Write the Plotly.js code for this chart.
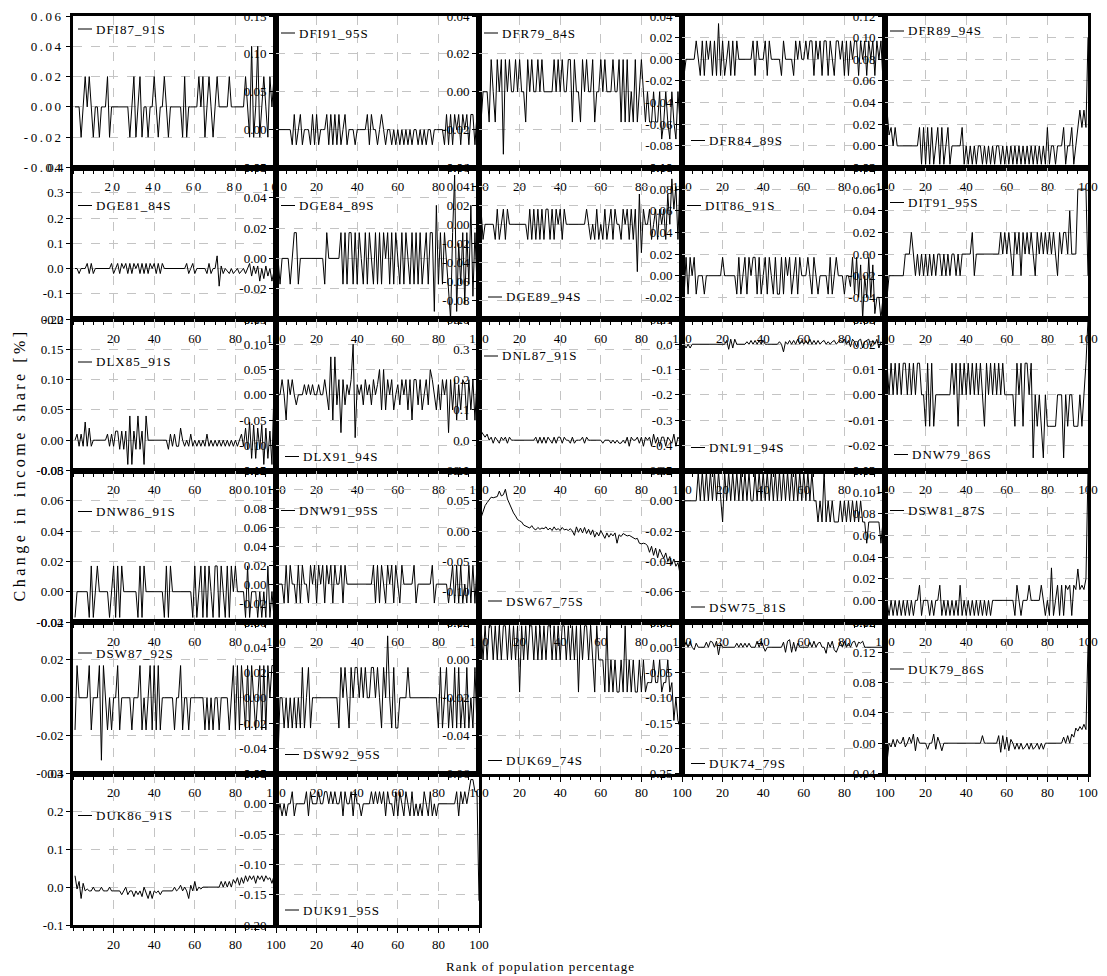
<!DOCTYPE html>
<html>
<head>
<meta charset="utf-8">
<script src="https://cdn.plot.ly/plotly-3.0.1.min.js"></script>
<style>
html,body{margin:0;padding:0;background:#fff;}
#chart{width:1107px;height:976px;}
.xtick text,.ytick text{letter-spacing:2.5px;}
.annotation-text{letter-spacing:1px;}
.annotation[data-index="0"] .annotation-text{letter-spacing:3.5px;}
</style>
</head>
<body>
<div id="chart"></div>
<script>
// ---------------- data ----------------
const rank = Array.from({length: 100}, (_, i) => i + 1);

const DFI87_91S = [0,0,0,-.02,0,.02,0,.02,0,-.02, 0,0,-.02,0,0,0,.02,-.02,0,0, 0,0,0,0,0,0,0,-.02,0,.02, -.02,0,.02,-.02,0,0,-.02,0,0,.02, 0,-.02,0,0,.02,0,-.02,0,0,0, 0,0,0,-.02,.02,-.02,0,0,0,0, 0,.02,0,.02,-.02,0,.02,0,-.02,0, .02,0,0,0,0,0,.02,0,0,0, 0,0,0,0,.02,0,-.02,.04,-.02,0, .04,-.02,0,.02,0,-.02,.02,0,.02,0];
const DFI91_95S = [0,0,0,0,0,0,0,-.02,.02,-.02, 0,.02,-.02,0,0,0,-.02,.02,-.02,.02, -.02,0,0,0,.02,-.02,.02,-.02,.02,-.02, .02,-.02,0,.02,-.02,0,0,0,-.02,0, 0,0,0,0,.02,-.02,.02,0,0,-.02, 0,.02,0,-.02,0,0,-.02,0,-.02,0, -.02,0,-.02,0,-.02,0,-.02,0,0,-.02, 0,-.02,0,-.02,0,0,-.02,0,0,0, 0,0,-.02,.02,-.02,.02,-.02,.02,0,.02, -.02,.02,0,.02,-.02,.02,.02,-.02,.02,0];
const DFR79_84S = [-.016,0,0,0,-.016,.017,0,-.016,.017,0, .017,-.033,.017,0,.017,0,0,.017,0,.017, 0,0,-.016,.017,0,.017,0,0,.017,0, .017,0,0,0,0,0,.017,0,.017,0, .017,0,0,.017,.017,-.016,.017,0,0,-.016, .017,0,.017,0,0,.017,-.016,0,0,.017, 0,.017,0,0,0,.017,0,0,.017,-.016, .017,-.016,.017,-.016,0,-.016,.017,-.016,0,.017, 0,-.016,0,-.016,-.016,0,-.016,-.016,0,-.025, -.016,0,-.016,-.025,0,-.016,-.025,0,-.016,-.025];
const DFR84_89S = [-.015,0,0,0,0,0,.017,0,-.015,.017, -.015,.017,0,.017,-.015,.017,-.015,.033,-.015,.017, -.015,0,.017,-.015,.017,-.015,.017,0,0,0, 0,0,0,0,.017,-.015,.017,0,0,0, .017,-.015,.017,0,0,0,0,0,-.015,.017, 0,0,0,0,-.015,.017,0,.017,0,0, .017,0,.017,.017,-.015,.017,0,.017,-.015,.017, .017,-.015,.017,0,-.015,.017,.017,0,.017,-.015, .017,-.015,.017,0,.017,.017,-.015,.017,0,.017, -.015,.017,0,.017,-.015,.017,0,.017,-.02,.017];
const DFR89_94S = [.033,.01,.017,0,.017,0,0,0,0,0, 0,0,0,0,0,0,.017,-.017,.017,-.017, .017,-.017,.017,-.017,0,.017,-.017,.017,-.017,0, .017,-.017,0,0,0,0,0,.017,-.017,0, -.017,0,-.017,0,-.017,0,0,-.017,0,-.017, 0,-.017,0,-.017,0,0,-.017,0,-.017,0, -.017,0,-.017,0,-.017,0,-.017,0,-.017,0, -.017,0,-.017,0,-.017,0,-.017,0,-.017,.017, -.017,0,0,-.017,0,0,0,.017,-.017,0, 0,.017,-.017,0,.017,.033,.017,.033,.017,.10];
const DGE81_84S = [0,0,-.02,0,0,0,.02,-.02,.02,-.02, 0,0,0,0,0,0,0,0,.02,-.02, 0,.02,-.02,.02,0,.02,-.02,.02,-.02,.02, 0,.02,-.02,.02,-.02,.02,-.02,.02,0,.02, -.02,.02,-.02,.02,0,0,0,0,0,0, 0,0,0,0,0,.02,-.02,0,.02,-.02, 0,0,0,0,0,-.02,.02,-.02,0,0, .05,-.07,.01,-.02,0,-.01,-.02,0,-.02,-.01, 0,-.02,-.01,0,-.02,0,.02,-.03,.01,-.02, .01,-.05,0,-.04,.01,-.03,0,-.05,-.01,-.03];
const DGE84_89S = [0,-.017,0,0,0,0,-.017,0,.017,.017, -.017,0,0,0,0,0,0,0,0,0, 0,0,0,-.017,.017,0,0,0,0,0, 0,.017,-.017,.017,-.017,.017,.017,-.017,.017,-.017, .017,0,-.017,.017,-.017,.017,0,-.017,.017,-.017, .017,-.017,.017,0,.017,-.017,.017,-.017,.017,0, -.017,.017,-.017,.017,0,-.017,.017,-.017,.017,-.017, .017,-.017,0,.017,-.017,.017,.017,-.035,.035,-.017, .017,-.017,.017,0,-.017,-.04,.017,.055,-.035,.01, -.017,.017,-.03,.017,-.017,.035,-.025,.017,-.017,0];
const DGE89_94S = [.016,-.016,0,0,0,0,0,-.016,.016,-.016, 0,.016,-.016,.016,0,0,0,0,0,0, 0,0,0,-.016,.016,-.016,.016,-.016,.016,-.016, .016,-.016,.016,.016,-.016,.016,-.016,.016,0,.016, -.016,.016,0,0,0,0,0,0,0,0, 0,0,.016,0,-.016,0,-.016,.016,-.016,0, -.016,.016,-.016,0,.016,-.016,.016,0,0,-.016, .016,0,.016,-.016,.016,-.016,.016,-.05,.032,-.03, .016,0,0,.016,-.016,0,.016,-.016,.016,0, .016,-.016,.032,0,.048,.016,.04,-.016,.048,.03];
const DIT86_91S = [-.02,.017,-.017,.017,0,.017,-.017,0,0,0, -.017,0,0,0,0,0,0,0,0,.017, 0,0,0,0,0,0,-.017,.017,-.017,0, .017,-.017,.017,0,.017,.017,-.017,.017,-.017,0, .017,-.017,.017,0,-.017,.017,-.017,-.017,.017,-.017, .017,0,.017,-.017,0,.017,-.017,.017,0,0, 0,.017,0,-.017,.017,0,-.017,0,0,0, 0,-.017,.017,-.017,0,.017,0,0,0,-.017, 0,0,-.01,.017,-.017,.017,-.02,.01,-.04,0, -.02,.017,-.02,.01,-.035,-.02,-.02,-.04,-.02,-.04];
const DIT91_95S = [-.04,-.02,-.02,-.02,-.02,-.02,-.02,-.02,-.02,0, 0,0,.02,0,-.02,0,-.02,0,-.02,0, -.02,0,-.02,0,-.02,0,0,-.02,0,-.02, 0,-.02,0,0,-.02,0,-.02,0,0,0, 0,0,.02,-.02,0,0,0,0,0,0, 0,0,0,0,0,0,.02,0,.02,0, .02,0,-.02,.02,0,.02,-.02,.02,0,.02, 0,.02,0,-.02,.02,0,.02,0,.02,0, .02,0,.02,0,-.02,.02,0,.02,.02,0, .04,0,0,0,.06,.06,.06,.06,.06,-.02];
const DLX85_91S = [0,.01,-.01,.01,-.01,.03,-.01,.02,-.01,0, 0,0,0,0,0,0,.01,-.01,.01,-.01, .015,.015,-.015,.015,-.015,.015,-.04,.04,-.04,.015, -.015,.04,-.015,.015,-.04,.04,0,0,0,0, 0,0,0,0,0,0,-.015,.01,-.01,.01, -.01,-.01,.02,0,-.01,0,-.01,.01,-.01,0, -.01,0,-.01,0,-.01,.01,-.01,0,-.01,0, -.01,0,-.01,0,-.01,0,-.01,0,-.01,0, -.01,0,.01,-.01,.02,-.015,.03,-.03,.025,-.03, .02,-.015,.025,-.04,.02,-.03,.015,-.04,.085,-.025];
const DLX91_94S = [0,0,.03,0,-.05,.03,0,.03,0,-.02, 0,0,0,.02,0,.02,0,.02,0,0, .02,0,0,.03,0,-.03,.075,-.05,.075,-.02, .03,-.075,.03,-.02,.02,0,.03,.1,-.085,.02, 0,.02,-.02,.03,0,.02,-.02,.03,0,.02, .05,-.03,.05,-.03,.03,0,.03,-.03,0,.02, -.02,.03,0,.03,-.03,.03,-.05,.03,.03,-.02, .03,-.03,0,.03,-.02,.05,.03,0,-.03,.02, -.03,.03,0,.03,-.075,.03,-.03,.03,-.05,.02, -.03,.03,.02,-.05,.03,-.03,.03,-.05,.03,0];
const DNL87_91S = [.03,.02,.01,.02,0,.01,-.01,.01,0,-.01, .01,0,.01,-.01,.01,0,0,0,0,0, 0,0,0,0,0,0,0,.01,-.01,.01, -.01,.01,-.01,.01,0,-.01,.01,-.01,.01,.01, -.01,.01,0,0,-.01,.01,-.01,0,0,0, .01,-.01,.01,0,0,0,0,0,0,0, -.01,0,0,0,-.01,0,-.01,0,-.01,-.01, 0,-.01,.01,-.02,.01,0,0,.01,-.01,.01, -.02,.01,0,.01,-.02,.02,-.01,.01,-.02,.01, .01,-.02,.01,0,-.01,.02,-.02,.01,0,-.01];
const DNL91_94S = [0,-.015,0,-.015,0,0,0,0,0,0, 0,0,0,0,0,0,0,0,0,0, 0,.015,-.02,.02,-.015,.02,0,0,0,0, 0,.01,0,.015,0,.015,0,.015,0,.015, 0,0,0,0,0,0,0,.01,0,-.03, .01,0,.015,0,.015,0,.02,0,.015,0, .015,0,.02,0,.015,0,.015,0,.01,.015, 0,.01,0,.01,.015,0,.01,.015,.01,.02, 0,.015,-.01,.02,.01,-.01,.015,.02,-.015,.01, .015,.02,-.01,.015,0,.02,-.015,.01,0,-.06];
const DNW79_86S = [.0125,0,.0125,0,.0125,0,.0125,0,.0125,.0125, 0,.0125,0,.0125,0,.0125,.0125,0,0,-.0125, .0125,-.0125,.0125,-.0125,0,0,0,0,0,0, 0,0,.0125,0,.0125,-.0125,.0125,0,.0125,0, .0125,0,.0125,0,.0125,0,.0125,0,-.0125,.0125, 0,.0125,0,.0125,0,.0125,0,.0125,0,0, 0,0,0,-.0125,.0125,0,.0125,-.0125,.0125,.0125, 0,.0125,-.025,0,-.0125,0,-.0125,-.025,0,-.0125, -.0125,-.0125,-.0125,-.0125,0,0,0,-.025,0,-.0125, 0,0,-.0125,-.0125,-.0125,0,-.0125,0,.0125,.03];
const DNW86_91S = [-.017,0,0,0,0,0,0,-.017,.017,-.017, 0,.017,0,0,0,0,0,-.017,0,.017, -.017,.017,-.017,.017,0,0,0,0,0,0, 0,-.017,.017,-.017,.017,0,0,0,0,0, 0,0,0,0,-.017,.017,-.017,.017,0,0, 0,0,0,0,0,0,0,0,-.017,.017, -.017,0,.017,-.017,.017,-.017,.017,0,-.017,.017, .017,-.017,.017,0,-.017,.017,-.017,.017,0,.017, 0,0,0,0,-.017,.017,-.017,0,0,0, -.017,0,-.017,0,-.017,.017,-.017,0,-.017,.033];
const DNW91_95S = [0,0,0,-.02,.02,-.02,.02,0,0,-.02, .02,-.02,.02,0,0,-.02,.02,0,.02,-.02, .02,0,.02,-.02,.02,0,.02,-.02,.02,0, 0,.02,-.02,.02,0,0,0,0,0,0, 0,0,0,0,0,0,0,.02,-.02,.02, -.02,.02,0,-.02,.02,0,.02,-.02,.02,0, -.02,.02,0,0,0,0,0,.02,-.02,0, 0,0,0,0,0,0,.02,-.02,0,0, 0,0,0,0,-.02,0,.02,-.02,.02,-.02, .02,-.02,0,-.02,.02,-.02,.02,-.02,.02,0];
const DSW67_75S = [.022,.033,.042,.047,.052,.056,.055,.056,.057,.066, .058,.06,.069,.053,.045,.039,.03,.025,.019,.017, .015,.01,.008,.007,.005,.009,.004,.002,.006,.003, .005,.004,.007,.002,.005,.001,.007,.002,.004,.001, .006,.002,.003,.001,.004,0,-.007,.007,-.002,.005, -.003,.006,-.004,.003,-.006,.002,-.01,-.002,-.008,.001, -.006,-.012,-.003,-.01,-.004,-.008,-.003,-.02,-.006,-.009, -.004,-.006,-.008,-.007,-.009,-.012,-.013,-.012,-.02,-.021, -.02,-.021,-.024,-.035,-.025,-.04,-.028,-.044,-.03,-.038, -.045,-.036,-.05,-.042,-.055,-.046,-.058,-.052,-.07,-.078];
const DSW75_81S = [0,0,0,0,0,0,0,.019,0,.019, 0,.019,0,.019,0,.019,0,.019,0,-.014, .019,0,.019,0,.019,0,.019,0,.019,0, .019,0,.019,0,0,.019,0,.019,0,.019, 0,.019,0,.019,0,.019,0,.019,0,.019, 0,.019,0,.019,0,.019,0,.019,0,.019, 0,.019,0,.019,0,0,-.014,0,-.014,.019, -.014,0,-.014,0,-.014,-.014,-.014,0,-.014,0, -.014,0,-.014,0,-.014,0,-.014,0,-.014,-.014, -.028,-.014,-.014,-.014,-.014,-.014,-.014,-.028,-.014,-.028];
const DSW81_87S = [0,-.014,0,-.014,0,-.014,0,-.014,0,-.014, 0,-.014,0,-.014,0,0,.014,-.014,0,0, 0,-.014,0,-.014,0,0,.014,-.014,0,-.014, 0,-.014,0,-.014,0,-.014,.014,-.014,0,-.014, 0,-.014,0,-.014,0,-.014,0,-.014,0,-.014, 0,-.014,0,0,0,0,0,0,0,0, 0,0,0,-.014,.014,0,-.014,0,0,0, .014,0,0,0,0,0,.014,0,-.014,0, -.014,.03,-.014,0,.014,-.014,.014,-.014,.014,.01, .014,-.014,.014,.01,.029,.01,.014,.01,.02,.12];
const DSW87_92S = [-.017,.017,0,0,0,0,0,.017,-.017,0, 0,0,.017,-.033,.017,0,-.017,0,-.017,0, 0,.017,-.017,0,0,0,0,0,-.017,0, 0,0,.017,-.017,0,-.017,0,.017,-.017,.017, -.017,.017,-.017,0,0,0,0,0,0,-.017, 0,0,.017,-.017,0,0,-.017,0,0,0, 0,0,0,0,-.017,0,-.017,0,-.017,0, 0,-.017,0,0,0,0,-.017,0,.017,-.017, .017,-.017,.017,0,-.017,.017,-.017,.017,0,-.017, 0,.017,-.017,.017,-.017,.017,0,.017,.017,.028];
const DSW92_95S = [-.047,0,0,-.024,0,-.024,0,-.024,0,-.024, 0,-.024,.024,-.024,0,.024,-.024,0,0,0, 0,0,0,0,0,0,0,0,0,0, -.024,.024,0,.024,0,-.024,.024,0,.024,.024, 0,.024,0,.024,0,0,.024,.024,0,.024, 0,-.024,.024,0,.049,0,-.024,.024,-.024,-.024, 0,0,0,0,.024,0,0,0,0,0, 0,0,0,0,0,0,0,0,0,-.024, .024,-.024,0,.024,-.024,0,-.024,.024,-.024,.024, -.024,0,-.024,.024,-.024,0,-.024,.024,-.024,0];
const DUK69_74S = [.018,0,.018,0,.018,.018,0,.018,0,.018, 0,.018,.018,0,.018,0,.018,0,.018,-.017, .018,0,.018,0,.018,.018,0,.018,0,.018, 0,.018,0,.018,.018,0,.018,0,.018,0, .018,.018,0,.018,0,.018,0,.018,-.017,.018, 0,.018,.018,0,.018,0,-.017,.018,0,0, 0,-.017,.018,-.017,0,-.017,0,-.017,-.017,0, -.017,.018,-.017,0,-.017,0,-.017,-.017,0,-.017, 0,-.017,-.012,-.012,-.012,0,-.012,-.012,0,-.017, -.012,-.012,0,-.017,-.012,-.032,-.02,-.032,-.035,-.039];
const DUK74_79S = [0,.01,0,.012,0,-.005,.008,0,0,0, 0,.01,0,.012,.01,0,.012,-.015,.008,0, 0,0,0,0,0,0,.008,0,.008,0, .008,0,.008,0,0,0,.012,0,.012,0, -.008,0,0,0,0,0,0,0,0,.01, -.01,.012,.015,-.01,.01,-.008,.008,0,0,0, 0,0,.01,0,.012,0,.008,.01,0,0, -.012,.01,0,.012,-.005,-.01,0,.01,0,.012, 0,.008,0,.01,.012,0,.01,.008,.012,0, 0,0,0,0,0,0,0,0,0,-.03];
const DUK79_86S = [-.025,0,-.005,.005,-.005,.005,0,0,.008,-.005, 0,.008,0,.012,-.01,.008,0,0,0,0, -.008,0,0,.012,-.008,.008,0,-.01,0,0, 0,0,0,0,0,0,0,0,0,0, 0,0,0,0,0,0,0,.01,0,0, 0,0,0,0,0,.01,-.012,.01,-.008,.008, -.01,.005,0,-.008,0,-.008,0,-.008,-.005,0, -.008,0,-.008,-.005,0,-.008,0,-.008,0,0, 0,0,0,0,0,0,0,.008,0,.01, 0,.012,.008,.02,.016,.022,.018,.025,.018,.13];
const DUK86_91S = [.03,-.005,.015,-.03,.01,-.01,-.005,-.01,-.01,0, -.01,-.01,-.01,0,-.01,-.01,-.01,0,-.01,-.01, -.01,-.01,-.01,-.02,-.01,0,-.02,-.01,-.01,-.025, -.01,-.02,-.01,-.025,0,-.015,-.03,-.01,-.03,-.01, -.015,-.01,-.02,-.01,-.01,-.01,-.01,-.01,-.01,0, -.01,-.005,.005,-.01,0,-.01,-.03,.005,-.01,.015, -.01,0,-.005,0,0,0,0,0,0,0, 0,0,.015,0,.015,0,.015,0,.02,.01, .025,.005,.025,.01,.03,.015,.03,.02,.03,.01, .03,.02,.03,.015,.03,.02,.025,.01,.03,.015];
const DUK91_95S = [-.015,0,-.02,0,-.02,0,0,.02,-.02,0, 0,0,0,0,.02,-.02,.02,0,0,0, .02,0,0,.02,.02,0,.02,0,.02,0, 0,.02,-.02,.02,0,0,.02,-.02,.02,0, 0,-.02,0,0,0,0,.02,0,.02,0, .02,0,.02,-.02,.02,0,0,-.02,.02,-.02, .02,0,-.02,.02,0,-.02,.02,-.02,0,-.02, 0,-.02,.02,0,-.02,.02,-.02,0,-.02,0, 0,0,0,0,0,0,0,0,.02,-.02, .02,0,.02,0,.02,.04,.04,.02,.02,-.16];

const panelNames = ['DFI87_91S','DFI91_95S','DFR79_84S','DFR84_89S','DFR89_94S',
  'DGE81_84S','DGE84_89S','DGE89_94S','DIT86_91S','DIT91_95S',
  'DLX85_91S','DLX91_94S','DNL87_91S','DNL91_94S','DNW79_86S',
  'DNW86_91S','DNW91_95S','DSW67_75S','DSW75_81S','DSW81_87S',
  'DSW87_92S','DSW92_95S','DUK69_74S','DUK74_79S','DUK79_86S',
  'DUK86_91S','DUK91_95S'];
const panelSeries = [DFI87_91S,DFI91_95S,DFR79_84S,DFR84_89S,DFR89_94S,
  DGE81_84S,DGE84_89S,DGE89_94S,DIT86_91S,DIT91_95S,
  DLX85_91S,DLX91_94S,DNL87_91S,DNL91_94S,DNW79_86S,
  DNW86_91S,DNW91_95S,DSW67_75S,DSW75_81S,DSW81_87S,
  DSW87_92S,DSW92_95S,DUK69_74S,DUK74_79S,DUK79_86S,
  DUK86_91S,DUK91_95S];

// y-axis ranges / tick steps / decimals per panel
const yRanges = [[-0.04,0.06],[-0.05,0.15],[-0.04,0.04],[-0.10,0.04],[-0.02,0.12],
  [-0.2,0.4],[-0.04,0.06],[-0.10,0.06],[-0.04,0.10],[-0.06,0.08],
  [-0.05,0.20],[-0.15,0.15],[-0.1,0.4],[-0.5,0.1],[-0.03,0.03],
  [-0.02,0.08],[-0.04,0.12],[-0.15,0.10],[-0.08,0.02],[-0.02,0.12],
  [-0.04,0.04],[-0.06,0.06],[-0.06,0.02],[-0.25,0.05],[-0.04,0.16],
  [-0.1,0.3],[-0.20,0.05]];
const yDticks = [0.02,0.05,0.02,0.02,0.02, 0.1,0.02,0.02,0.02,0.02,
  0.05,0.05,0.1,0.1,0.01, 0.02,0.02,0.05,0.02,0.02,
  0.02,0.02,0.02,0.05,0.04, 0.1,0.05];
const yDecimals = [2,2,2,2,2, 1,2,2,2,2, 2,2,1,1,2, 2,2,2,2,2, 2,2,2,2,2, 1,2];
const xTickVals = [20,40,60,80,100];
const xTickText = ['20','40','60','80','100'];

// label placement: side of panel and pixel offset from that edge
const legendSide = ['t','t','t','b','t', 't','t','b','t','t', 't','b','t','b','b',
  't','t','b','b','t', 't','b','b','b','t', 't','b'];
const legendOffset = [13,17,17,27,15, 38,38,22,38,35, 43,14,37,23,16,
  41,40,21,15,40, 31,19,13,10,47, 42,15];

// ---------------- layout ----------------
const W = 1107, H = 976;
const M = {l:73, r:19, t:16, b:51};
const NC = 5, NR = 6;
const PW = (W - M.l - M.r) / NC, PH = (H - M.t - M.b) / NR;
const FONT = '"Liberation Serif", "Times New Roman", Times, serif';

const traces = [];
const layout = {
  width: W, height: H, margin: M,
  paper_bgcolor: '#fff', plot_bgcolor: '#fff',
  showlegend: false, hovermode: false,
  font: {family: FONT, size: 13, color: '#000'},
  shapes: [],
  annotations: [
    {text: 'Change in income share [%]', xref: 'paper', yref: 'paper',
     x: (20 - M.l) / (W - M.l - M.r), y: 1 - (465 - M.t) / (H - M.t - M.b),
     xanchor: 'center', yanchor: 'middle', textangle: -90, showarrow: false,
     font: {family: FONT, size: 16, color: '#000'}},
    {text: 'Rank of population percentage', xref: 'paper', yref: 'paper',
     x: (540 - M.l) / (W - M.l - M.r), y: 1 - (967 - M.t) / (H - M.t - M.b),
     xanchor: 'center', yanchor: 'middle', showarrow: false,
     font: {family: FONT, size: 13, color: '#000'}}
  ]
};

function yTicks(i) {
  const lo = yRanges[i][0], hi = yRanges[i][1], d = yDticks[i];
  const n = Math.round((hi - lo) / d);
  const vals = [], text = [];
  for (let k = 0; k <= n; k++) {
    let v = +(lo + k * d).toFixed(6);
    if (Math.abs(v) < 1e-9) v = 0;
    vals.push(v);
    text.push(v.toFixed(yDecimals[i]));
  }
  return {vals, text};
}

panelNames.forEach((name, i) => {
  const col = i % NC, row = Math.floor(i / NC);
  const sfx = i === 0 ? '' : String(i + 1);
  const xa = 'x' + sfx, ya = 'y' + sfx;
  traces.push({
    x: rank, y: panelSeries[i], xaxis: xa, yaxis: ya, type: 'scatter', mode: 'lines',
    line: {color: '#000', width: 1}, hoverinfo: 'skip', name: name
  });
  const t = yTicks(i);
  const common = {
    showline: true, mirror: true, linecolor: '#000', linewidth: 3,
    showgrid: true, gridcolor: '#c4c4c4', griddash: 'dash', gridwidth: 1,
    zeroline: false, ticks: 'outside', tickcolor: '#000', tickwidth: 1,
    tickfont: {family: FONT, size: 13, color: '#000'}, fixedrange: true
  };
  layout['xaxis' + sfx] = Object.assign({}, common, {
    domain: [col / NC, (col + 1) / NC], anchor: ya, range: [0, 100],
    tickmode: 'array', tickvals: xTickVals, ticktext: xTickText, ticklen: 5,
    minor: {tickmode: 'linear', tick0: 0, dtick: 5, ticks: 'outside', ticklen: 3,
            tickcolor: '#000', showgrid: false}
  });
  layout['yaxis' + sfx] = Object.assign({}, common, {
    domain: [1 - (row + 1) / NR, 1 - row / NR], anchor: xa, range: yRanges[i],
    tickmode: 'array', tickvals: t.vals, ticktext: t.text, ticklen: 4
  });
  const yf = legendSide[i] === 't' ? 1 - legendOffset[i] / PH : legendOffset[i] / PH;
  const dx0 = legendSide[i] === 't' ? 5 : 9;
  layout.shapes.push({
    type: 'line', xref: xa + ' domain', yref: ya + ' domain',
    x0: dx0 / PW, x1: (dx0 + 14) / PW, y0: yf, y1: yf,
    line: {color: '#000', width: 1}
  });
  layout.annotations.push({
    text: name, xref: xa + ' domain', yref: ya + ' domain',
    x: (dx0 + 16) / PW, y: yf, xanchor: 'left', yanchor: 'middle', showarrow: false,
    font: {family: FONT, size: 13, color: '#000'}
  });
});

Plotly.newPlot('chart', traces, layout, {displayModeBar: false, staticPlot: true});
</script>
</body>
</html>
